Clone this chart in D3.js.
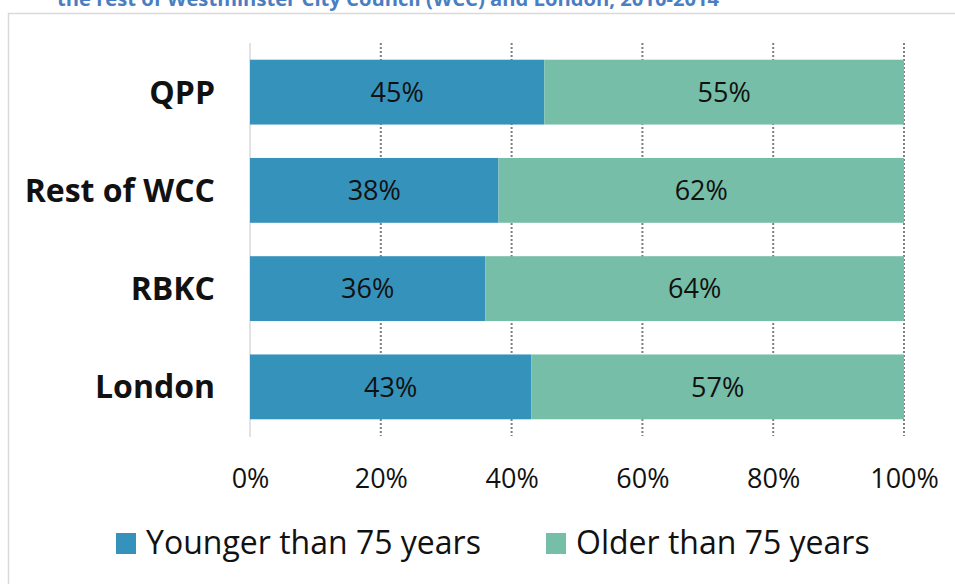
<!DOCTYPE html>
<html>
<head>
<meta charset="utf-8">
<script src="https://cdn.jsdelivr.net/npm/d3@7"></script>
<style>
  html, body { margin: 0; padding: 0; background: #fff; }
  svg { display: block; font-family: "Open Sans", "Noto Sans", sans-serif; }
</style>
</head>
<body>
<svg id="chart" width="955" height="584"></svg>
<script>
// Share of deaths by age group, per area
const categories = ["QPP", "Rest of WCC", "RBKC", "London"];
const younger = [45, 38, 36, 43];
const older = [55, 62, 64, 57];
const seriesNames = ["Younger than 75 years", "Older than 75 years"];
const seriesColors = ["#3593BB", "#76BEA7"];
const xTicks = [0, 20, 40, 60, 80, 100];
const titleText = "the rest of Westminster City Council (WCC) and London, 2010-2014";

const svg = d3.select("#chart");

// Title line, partly above the top edge
svg.append("text")
  .attr("x", 57).attr("y", 6)
  .attr("fill", "#4A7EC2")
  .attr("font-weight", "bold")
  .attr("font-size", 20.2)
  .text(titleText);

// Chart frame
svg.append("rect")
  .attr("x", 8.5).attr("y", 13.5)
  .attr("width", 960).attr("height", 600)
  .attr("fill", "#fff")
  .attr("stroke", "#D9D9D9")
  .attr("stroke-width", 1.5);

const plot = { left: 250, right: 904, top: 43, bottom: 436 };

const x = d3.scaleLinear().domain([0, 100]).range([plot.left, plot.right]);
const y = d3.scaleBand().domain(categories).range([plot.top, plot.bottom]).paddingInner(0.34).paddingOuter(0.17);

// Dotted vertical gridlines
svg.append("g").selectAll("line")
  .data(xTicks.filter(d => d > 0))
  .join("line")
  .attr("x1", d => x(d)).attr("x2", d => x(d))
  .attr("y1", plot.top).attr("y2", plot.bottom)
  .attr("stroke", "#7F7F7F")
  .attr("stroke-width", 2)
  .attr("stroke-dasharray", "2,2");

// Category axis line
svg.append("line")
  .attr("x1", x(0)).attr("x2", x(0))
  .attr("y1", plot.top).attr("y2", plot.bottom + 1)
  .attr("stroke", "#D9D9D9")
  .attr("stroke-width", 1.5);

// Stacked bars
const rows = categories.map((c, i) => ({ cat: c, values: [younger[i], older[i]] }));
const stackData = [];
rows.forEach(r => {
  let acc = 0;
  r.values.forEach((v, s) => {
    stackData.push({ cat: r.cat, s, x0: acc, x1: acc + v, v });
    acc += v;
  });
});

svg.append("g").selectAll("rect")
  .data(stackData)
  .join("rect")
  .attr("x", d => x(d.x0))
  .attr("y", d => y(d.cat))
  .attr("width", d => x(d.x1) - x(d.x0))
  .attr("height", y.bandwidth())
  .attr("fill", d => seriesColors[d.s]);

// Value labels
svg.append("g").selectAll("text")
  .data(stackData)
  .join("text")
  .attr("x", d => (x(d.x0) + x(d.x1)) / 2)
  .attr("y", d => y(d.cat) + y.bandwidth() / 2)
  .attr("dy", "0.36em")
  .attr("text-anchor", "middle")
  .attr("font-size", 27)
  .attr("fill", "#111")
  .text(d => d.v + "%");

// Category labels
svg.append("g").selectAll("text")
  .data(categories)
  .join("text")
  .attr("x", 215)
  .attr("y", d => y(d) + y.bandwidth() / 2)
  .attr("dy", "0.36em")
  .attr("text-anchor", "end")
  .attr("font-size", 32)
  .attr("font-weight", "bold")
  .attr("fill", "#111")
  .text(d => d);

// Percentage axis
const xAxis = d3.axisBottom(x).tickValues(xTicks).tickFormat(d => d + "%").tickSize(0).tickPadding(0);
const gx = svg.append("g").attr("transform", `translate(0, 488)`).call(xAxis);
gx.select(".domain").remove();
gx.selectAll("text")
  .attr("dy", 0)
  .attr("font-size", 27)
  .attr("font-family", "\"Open Sans\", sans-serif")
  .attr("fill", "#111");

// Legend
const legendItems = [
  { name: seriesNames[0], color: seriesColors[0], x: 116 },
  { name: seriesNames[1], color: seriesColors[1], x: 546 }
];
const lg = svg.append("g").selectAll("g").data(legendItems).join("g")
  .attr("transform", d => `translate(${d.x}, 533)`);
lg.append("rect").attr("width", 20).attr("height", 21).attr("fill", d => d.color);
lg.append("text")
  .attr("x", 30).attr("y", 21)
  .attr("font-size", 32)
  .attr("fill", "#111")
  .text(d => d.name);
</script>
</body>
</html>
